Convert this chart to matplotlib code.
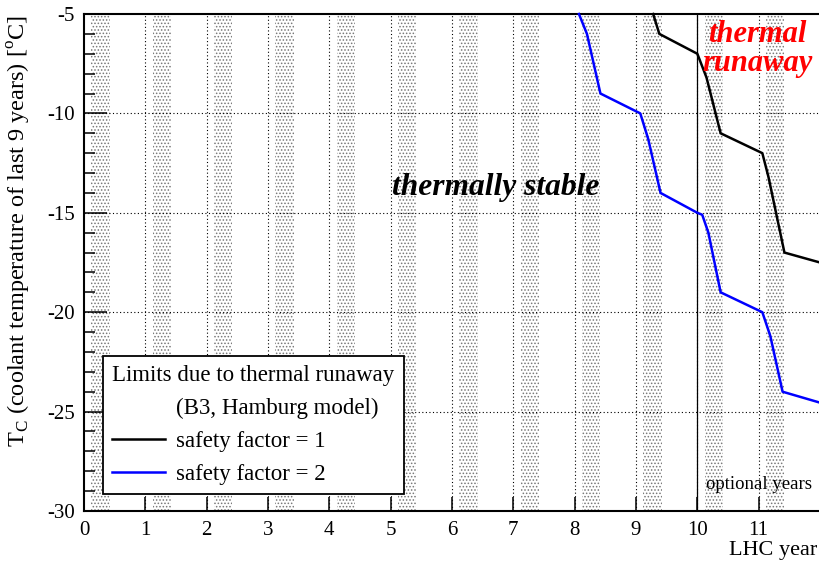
import matplotlib
matplotlib.use('Agg')
import matplotlib.pyplot as plt
import matplotlib.ticker as ticker
from matplotlib.lines import Line2D

plt.rcParams['font.family'] = ['Liberation Serif', 'DejaVu Serif']
plt.rcParams['mathtext.fontset'] = 'custom'
plt.rcParams['mathtext.rm'] = 'Liberation Serif'
plt.rcParams['hatch.linewidth'] = 0.7
plt.rcParams['axes.unicode_minus'] = False

# safety factor = 1 (black)
sf1_year = [9.28, 9.38, 10.0, 10.15, 10.38, 11.06, 11.16, 11.42, 12.0]
sf1_temp = [-5.0, -6.0, -7.0, -8.2, -11.0, -12.0, -13.2, -17.0, -17.5]

# safety factor = 2 (blue)
sf2_year = [8.07, 8.20, 8.42, 9.07, 9.20, 9.40, 10.0, 10.08, 10.18, 10.38,
            11.06, 11.19, 11.39, 12.0]
sf2_temp = [-5.0, -6.0, -9.0, -10.0, -11.3, -14.0, -15.0, -15.1, -16.0, -19.0,
            -20.0, -21.2, -24.0, -24.55]

# shutdown periods inside each year (fraction of the year)
band_start = 0.12
band_end = 0.42
years = list(range(12))

fig = plt.figure(figsize=(8.19, 5.65), dpi=100)
ax = fig.add_axes([84 / 819, 54 / 565, 736 / 819, 497 / 565])

for y in years:
    ax.axvspan(y + band_start, y + band_end, facecolor='none',
               edgecolor='#777777', hatch='.....', linewidth=0, zorder=0)

ax.set_xlim(0, 12)
ax.set_ylim(-30, -5)

# grid
for y in range(1, 12):
    ax.axvline(y, color='black', linestyle=(0, (1, 2.2)), linewidth=0.8, zorder=1)
for t in [-10, -15, -20, -25]:
    ax.axhline(t, color='black', linestyle=(0, (1, 2.2)), linewidth=0.8, zorder=1)

ax.axvline(10, color='black', linewidth=0.9, zorder=2)

ax.plot(sf1_year, sf1_temp, color='black', linewidth=1.8, zorder=3, clip_on=False)
ax.plot(sf2_year, sf2_temp, color='blue', linewidth=1.8, zorder=3, clip_on=False)

# ticks (ROOT-like, inward)
ax.set_xticks(years)
ax.yaxis.set_major_locator(ticker.MultipleLocator(5))
ax.yaxis.set_minor_locator(ticker.MultipleLocator(1))
ax.tick_params(axis='x', which='major', direction='in', length=10, width=1.1,
               labelsize=15, pad=7, top=False)
ax.tick_params(axis='y', which='major', direction='in', length=16.5, width=1.1,
               labelsize=15, pad=6.5, right=False)
ax.tick_params(axis='y', which='minor', direction='in', length=8, width=1.1,
               right=False)

for s in ['left', 'bottom', 'top']:
    ax.spines[s].set_linewidth(1.5)
ax.spines['right'].set_visible(False)

fig.text(817 / 819, 1 - 551 / 565, 'LHC year', fontsize=16, ha='right', va='center')
fig.text(19 / 819, 1 - 15 / 565,
         r'T$_\mathregular{C}$ (coolant temperature of last 9 years) [$^\mathregular{o}$C]',
         rotation=90, ha='center', va='top', fontsize=17.5)

ax.text(6.71, -13.75, 'thermally stable', fontsize=22.7, fontweight='bold',
        fontstyle='italic', ha='center', va='center')
ax.text(10.98, -6.75, 'thermal\nrunaway', fontsize=22, fontweight='bold',
        fontstyle='italic', color='red', ha='center', va='center',
        linespacing=1.0)
ax.text(11.0, -28.65, 'optional years', fontsize=13.5, ha='center', va='center')

handles = [Line2D([], [], color='none'),
           Line2D([], [], color='black', linewidth=1.8),
           Line2D([], [], color='blue', linewidth=1.8)]
labels = ['(B3, Hamburg model)', 'safety factor = 1', 'safety factor = 2']
leg = ax.legend(handles, labels, title='Limits due to thermal runaway',
                loc='lower left', bbox_to_anchor=(103 / 819, 1 - 494 / 565),
                bbox_transform=fig.transFigure, fontsize=16.5, title_fontsize=16.5,
                alignment='left', handlelength=2.3, handletextpad=0.5,
                labelspacing=0.52, borderpad=0.4, borderaxespad=0,
                fancybox=False, framealpha=1)
leg.get_frame().set_edgecolor('black')
leg.get_frame().set_linewidth(1.3)
leg.set_zorder(5)

fig.savefig('out.png', dpi=100)
